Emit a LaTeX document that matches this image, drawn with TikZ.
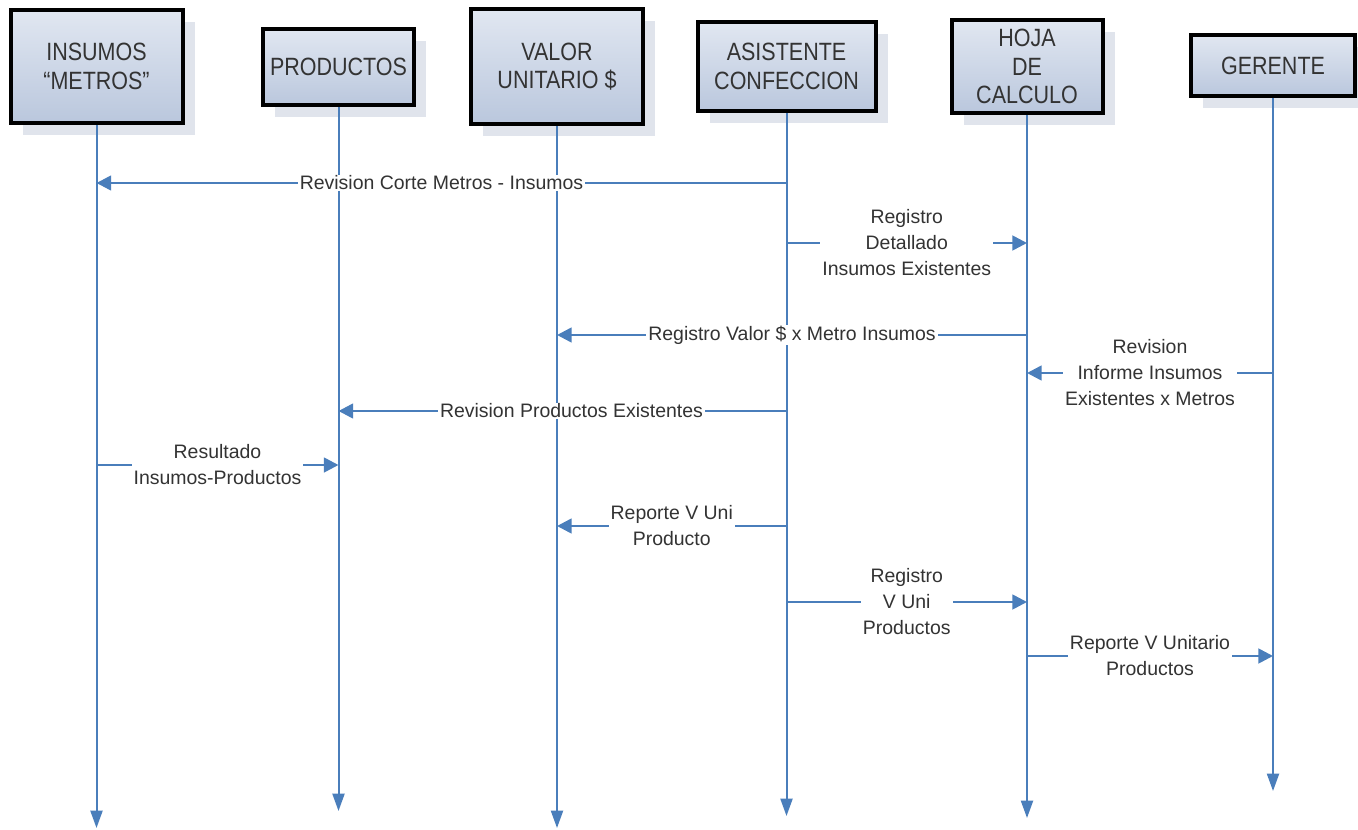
\documentclass[tikz,border=0pt]{standalone}
\usepackage{fontspec}
\setmainfont{Liberation Sans}
\newfontfamily\boxfont[FakeStretch=0.86]{Liberation Sans}
\usetikzlibrary{arrows.meta,shadows}
\definecolor{lineblue}{HTML}{4A7EBB}
\definecolor{txt}{HTML}{333333}
\definecolor{shade}{HTML}{E0E4EC}
\definecolor{boxtop}{HTML}{E1E7F1}
\definecolor{boxbot}{HTML}{BAC7DD}
\begin{document}
\begin{tikzpicture}[x=0.75pt,y=-0.75pt,
  actor/.style={draw=black, line width=3pt, top color=boxtop, bottom color=boxbot,
    text=txt, font=\boxfont\fontsize{18.75pt}{21.5pt}\selectfont, align=center, inner sep=0pt,
    drop shadow={shadow xshift=9pt, shadow yshift=-9pt, fill=shade, opacity=1}},
  life/.style={draw=lineblue, line width=1.5pt, -{Triangle[length=13pt,width=9pt]}},
  msg/.style={draw=lineblue, line width=2pt, -{Triangle[length=11pt,width=11pt]}},
  lbl/.style={fill=white, text=txt, font=\fontsize{14.6pt}{19.5pt}\selectfont,
    align=center, inner xsep=1.5pt, inner ysep=0.5pt}]
\useasboundingbox[fill=white] (0,0) rectangle (1358,830);

% actors
\node[actor, minimum width=129pt, minimum height=84.75pt] (ins) at (96.5,66.5) {INSUMOS\\“METROS”};
\node[actor, minimum width=113.25pt, minimum height=57pt] (pro) at (338.5,67) {PRODUCTOS};
\node[actor, minimum width=129pt, minimum height=86.25pt] (val) at (557,66.5) {VALOR\\UNITARIO \$};
\node[actor, minimum width=133.5pt, minimum height=66.75pt] (asi) at (786.5,66.5) {ASISTENTE\\CONFECCION};
\node[actor, minimum width=113.25pt, minimum height=69.75pt] (hoja) at (1027,66.5) {HOJA\\DE\\CALCULO};
\node[actor, minimum width=123pt, minimum height=45.75pt] (ger) at (1273,65.5) {GERENTE};

% lifeline ends
\coordinate (insE) at (96.5,828);
\coordinate (proE) at (338.5,811);
\coordinate (valE) at (557,828);
\coordinate (asiE) at (786.5,816);
\coordinate (hojaE) at (1027,818);
\coordinate (gerE) at (1273,791);

\draw[life] (ins.south) -- (insE);
\draw[life] (pro.south) -- (proE);
\draw[life] (val.south) -- (valE);
\draw[life] (asi.south) -- (asiE);
\draw[life] (hoja.south) -- (hojaE);
\draw[life] (ger.south) -- (gerE);

% message levels
\coordinate (m1) at (0,183);
\coordinate (m2) at (0,243);
\coordinate (m3) at (0,335);
\coordinate (m4) at (0,373);
\coordinate (m5) at (0,411);
\coordinate (m6) at (0,465);
\coordinate (m7) at (0,526);
\coordinate (m8) at (0,602);
\coordinate (m9) at (0,656);

\draw[msg] (asi |- m1) -- node[lbl] {Revision Corte Metros - Insumos} (ins |- m1);
\draw[msg] (asi |- m2) -- node[lbl] {Registro\\Detallado\\Insumos Existentes} (hoja |- m2);
\draw[msg] (hoja |- m3) -- node[lbl] {Registro Valor \$ x Metro Insumos} (val |- m3);
\draw[msg] (ger |- m4) -- node[lbl] {Revision\\Informe Insumos\\Existentes x Metros} (hoja |- m4);
\draw[msg] (asi |- m5) -- node[lbl, pos=0.48] {Revision Productos Existentes} (pro |- m5);
\draw[msg] (ins |- m6) -- node[lbl] {Resultado\\Insumos-Productos} (pro |- m6);
\draw[msg] (asi |- m7) -- node[lbl] {Reporte V Uni\\Producto} (val |- m7);
\draw[msg] (asi |- m8) -- node[lbl] {Registro\\V Uni\\Productos} (hoja |- m8);
\draw[msg] (hoja |- m9) -- node[lbl] {Reporte V Unitario\\Productos} (ger |- m9);
\end{tikzpicture}
\end{document}
